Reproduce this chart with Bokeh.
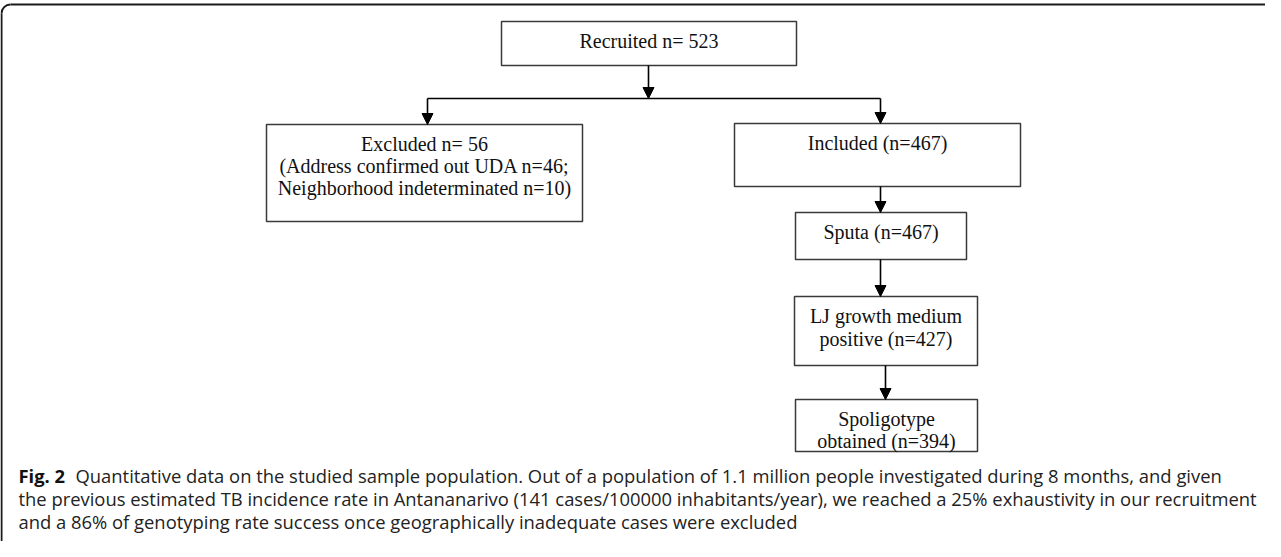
from bokeh.plotting import figure
from bokeh.models import Range1d, Arrow, NormalHead, ColumnDataSource
from bokeh.core.properties import value
from bokeh.embed import file_html
from bokeh.resources import INLINE

# ---- content ----
node_names = ["recruited", "excluded", "included", "sputa", "lj", "spoligo"]
node_labels = [
    ["Recruited n= 523"],
    ["Excluded n= 56", "(Address confirmed out UDA n=46;", "Neighborhood indeterminated n=10)"],
    ["Included (n=467)"],
    ["Sputa (n=467)"],
    ["LJ growth medium", "positive (n=427)"],
    ["Spoligotype", "obtained (n=394)"],
]
caption_bold = "Fig. 2"
caption_lines = [
    "Quantitative data on the studied sample population. Out of a population of 1.1 million people investigated during 8 months, and given",
    "the previous estimated TB incidence rate in Antananarivo (141 cases/100000 inhabitants/year), we reached a 25% exhaustivity in our recruitment",
    "and a 86% of genotyping rate success once geographically inadequate cases were excluded",
]

# ---- layout (page pixel coords) ----
OFF = 8
W, H = 1265, 541
boxes = {  # left, right, top, bottom
    "recruited": (509, 804, 29, 73),
    "excluded": (274, 590, 132, 229),
    "included": (742, 1028, 131, 194),
    "sputa": (803, 974, 220, 267),
    "lj": (802, 985, 304, 373),
    "spoligo": (803, 985, 407, 459),
}
text_y = {
    "recruited": [48],
    "excluded": [151, 173, 195],
    "included": [150],
    "sputa": [239],
    "lj": [323, 346],
    "spoligo": [426, 448],
}

def X(v):
    return v - OFF

def Y(v):
    return v - OFF

p = figure(width=W, height=H, output_backend="svg", toolbar_location=None,
           x_range=Range1d(0, W), y_range=Range1d(H, 0),
           min_border=0, outline_line_color=None)
p.axis.visible = False
p.grid.visible = False
p.background_fill_color = "white"
p.border_fill_color = "white"

# outer rounded frame (extends beyond view right/bottom)
fx0, fy0, r = 9, 12, 9
p.line([X(fx0), X(fx0)], [Y(fy0 + r), H + 20], line_color="#1a1a1a", line_width=2)
p.line([X(fx0 + r), W + 20], [Y(fy0), Y(fy0)], line_color="#1a1a1a", line_width=2)
p.arc(x=X(fx0 + r), y=Y(fy0 + r), radius=r, start_angle=3.14159 / 2, end_angle=3.14159,
      direction="anticlock", line_color="#1a1a1a", line_width=2)

# boxes
for name in node_names:
    l, rr, t, b = boxes[name]
    p.quad(left=X(l), right=X(rr), top=Y(t), bottom=Y(b),
           fill_color="white", line_color="#3a3a3a", line_width=1.5)
    cx = (l + rr) / 2
    labels = node_labels[node_names.index(name)]
    src = ColumnDataSource(dict(x=[X(cx)] * len(labels),
                                y=[Y(v) for v in text_y[name]],
                                t=labels))
    p.text(x="x", y="y", text="t", source=src, text_align="center", text_baseline="middle",
           text_font=value("Liberation Serif"), text_font_size="20px", text_color="#111111")

# connectors
def arrow(x0, y0, x1, y1):
    p.add_layout(Arrow(end=NormalHead(size=11, fill_color="black", line_color="black"),
                       x_start=X(x0), y_start=Y(y0), x_end=X(x1), y_end=Y(y1),
                       line_color="black", line_width=1.6))

arrow(656, 73, 656, 106)
p.line([X(435), X(888)], [Y(106), Y(106)], line_color="black", line_width=1.6)
arrow(435, 106, 435, 132)
arrow(888, 106, 888, 131)
arrow(888, 194, 888, 220)
arrow(888, 267, 888, 304)
arrow(893, 373, 893, 407)

# caption
cap_y = [483, 506, 529]
cap_x = [83, 26, 26]
p.text(x=[X(26)], y=[Y(cap_y[0])], text=[caption_bold], text_baseline="middle",
       text_font=value("Open Sans"), text_font_style="bold", text_font_size="18.4px",
       text_color="#111111")
for i, line in enumerate(caption_lines):
    p.text(x=[X(cap_x[i])], y=[Y(cap_y[i])], text=[line], text_baseline="middle",
           text_font=value("Open Sans"), text_font_size="18.4px", text_color="#222222")

open("out.html", "w").write(file_html(p, INLINE))
